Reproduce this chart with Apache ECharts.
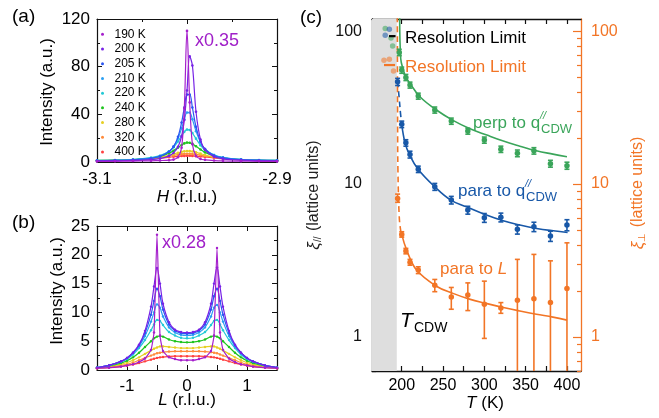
<!DOCTYPE html>
<html>
<head>
<meta charset="utf-8">
<script src="https://cdn.jsdelivr.net/npm/echarts@6/dist/echarts.min.js"></script>
<style>
html, body { margin: 0; padding: 0; background: #fff; }
#chart { width: 659px; height: 418px; }
</style>
</head>
<body>
<div id="chart"></div>
<script>
// ---------- temperatures shared by panels (a) and (b) ----------
const temps = ['190 K', '200 K', '205 K', '210 K', '220 K', '240 K', '280 K', '320 K', '400 K'];
const tempColors = ['#a51fcc', '#7622e6', '#2c57f2', '#2a9ff2', '#22c9d6', '#1ec41e', '#e6cf22', '#ff8a3a', '#ff4040'];

// ---------- panel (a): H scans ----------
const hValues = [-3.10, -3.08, -3.06, -3.04, -3.03, -3.02, -3.015, -3.01, -3.006, -3.003, -3.0,
                 -2.997, -2.994, -2.99, -2.985, -2.98, -2.97, -2.96, -2.94, -2.92, -2.90];
const hInt190 = [0.5, 0.6, 0.8, 1.0, 1.2, 1.5, 2.0, 4.0, 12, 45, 110, 50, 15, 5, 2.5, 1.8, 1.2, 0.9, 0.7, 0.6, 0.5];
const hInt200 = [0.8, 1.0, 1.3, 2.0, 2.9, 5.1, 7.6, 12.7, 21.6, 35.3, 60, 88.6, 81, 42.2, 18.8, 10.2, 4.5, 2.7, 1.5, 1.1, 0.9];
const hInt205 = [1.2, 1.4, 1.9, 3.1, 4.7, 8.6, 12.9, 21.1, 33.1, 45.7, 56.6, 56.6, 45.7, 29.5, 17.1, 10.8, 5.5, 3.5, 2.0, 1.5, 1.2];
const hInt210 = [1.2, 1.5, 2.0, 3.3, 5.0, 8.8, 12.8, 19.7, 28.3, 35.8, 41.5, 41.5, 35.8, 25.9, 16.5, 10.9, 5.8, 3.7, 2.1, 1.5, 1.3];
const hInt220 = [1.3, 1.6, 2.1, 3.6, 5.3, 9.0, 12.3, 17.2, 22.0, 25.3, 27.2, 26.8, 24.3, 19.6, 14.1, 10.1, 5.8, 3.8, 2.2, 1.6, 1.3];
const hInt240 = [1.3, 1.5, 2.0, 3.3, 4.7, 7.4, 9.5, 12.1, 14.3, 15.6, 16.3, 16.1, 15.2, 13.2, 10.5, 8.1, 5.1, 3.5, 2.1, 1.5, 1.3];
const hInt280 = [1.2, 1.4, 1.8, 2.9, 3.9, 5.5, 6.6, 7.7, 8.5, 9.0, 9.2, 9.15, 8.85, 8.2, 7.0, 5.9, 4.2, 3.0, 1.9, 1.4, 1.2];
const hInt320 = [1.1, 1.4, 1.8, 2.8, 3.6, 4.8, 5.5, 6.2, 6.6, 6.8, 6.9, 6.9, 6.7, 6.4, 5.8, 5.1, 3.9, 2.9, 1.9, 1.4, 1.1];
const hInt400 = [1.1, 1.4, 1.8, 2.6, 3.2, 4.0, 4.4, 4.8, 5.0, 5.1, 5.2, 5.2, 5.1, 4.9, 4.6, 4.2, 3.4, 2.7, 1.9, 1.4, 1.1];

// ---------- panel (b): L scans ----------
const lValues = [-1.5, -1.3, -1.1, -1.0, -0.9, -0.8, -0.7, -0.6, -0.55, -0.5, -0.45, -0.4, -0.3, -0.2, -0.1, 0,
                 0.1, 0.2, 0.3, 0.4, 0.45, 0.5, 0.55, 0.6, 0.7, 0.8, 0.9, 1.0, 1.1, 1.3, 1.5];
const lInt190 = [0.3, 0.4, 0.6, 0.8, 1.0, 1.4, 2.0, 3.5, 6.5, 23.5, 6.0, 3.3, 2.2, 1.9, 1.7, 1.7, 1.7, 1.9, 2.2, 3.3, 6.0, 21.2, 6.5, 3.5, 2.0, 1.4, 1.0, 0.8, 0.6, 0.4, 0.3];
const lInt200 = [0.4, 0.8, 1.5, 2.1, 3.0, 4.4, 6.8, 11, 14.5, 17.7, 15, 11.5, 8.3, 7.0, 6.6, 6.5, 6.6, 7.0, 8.3, 11.5, 15, 17.8, 14.5, 11, 6.8, 4.4, 3.0, 2.1, 1.5, 0.8, 0.4];
const lInt205 = [0.4, 0.8, 1.5, 2.1, 3.0, 4.3, 6.4, 9.6, 12, 14.1, 12.8, 10.5, 7.9, 6.8, 6.4, 6.3, 6.4, 6.8, 7.9, 10.5, 12.8, 14.1, 12, 9.6, 6.4, 4.3, 3.0, 2.1, 1.5, 0.8, 0.4];
const lInt210 = [0.4, 0.8, 1.5, 2.0, 2.9, 4.1, 5.9, 8.4, 10, 11.4, 10.8, 9.3, 7.4, 6.5, 6.1, 6.0, 6.1, 6.5, 7.4, 9.3, 10.8, 11.3, 10, 8.4, 5.9, 4.1, 2.9, 2.0, 1.5, 0.8, 0.4];
const lInt220 = [0.4, 0.8, 1.4, 1.9, 2.7, 3.8, 5.2, 6.9, 7.9, 8.7, 8.5, 7.8, 6.6, 6.0, 5.6, 5.5, 5.6, 6.0, 6.6, 7.8, 8.5, 8.7, 7.9, 6.9, 5.2, 3.8, 2.7, 1.9, 1.4, 0.8, 0.4];
const lInt240 = [0.4, 0.7, 1.2, 1.6, 2.2, 3.0, 4.0, 5.0, 5.5, 5.8, 5.9, 5.8, 5.3, 5.0, 4.85, 4.8, 4.85, 5.0, 5.3, 5.8, 5.9, 5.8, 5.5, 5.0, 4.0, 3.0, 2.2, 1.6, 1.2, 0.7, 0.4];
const lInt280 = [0.35, 0.6, 1.0, 1.3, 1.7, 2.2, 2.8, 3.4, 3.7, 3.9, 4.1, 4.1, 4.0, 3.9, 3.8, 3.8, 3.8, 3.9, 4.0, 4.1, 4.1, 3.9, 3.7, 3.4, 2.8, 2.2, 1.7, 1.3, 1.0, 0.6, 0.35];
const lInt320 = [0.3, 0.5, 0.8, 1.0, 1.3, 1.7, 2.1, 2.5, 2.7, 2.9, 3.0, 3.1, 3.2, 3.25, 3.25, 3.25, 3.25, 3.25, 3.2, 3.1, 3.0, 2.9, 2.7, 2.5, 2.1, 1.7, 1.3, 1.0, 0.8, 0.5, 0.3];
const lInt400 = [0.3, 0.4, 0.6, 0.75, 0.95, 1.2, 1.5, 1.8, 1.95, 2.1, 2.2, 2.25, 2.35, 2.4, 2.4, 2.4, 2.4, 2.4, 2.35, 2.25, 2.2, 2.1, 1.95, 1.8, 1.5, 1.2, 0.95, 0.75, 0.6, 0.4, 0.3];

// ---------- panel (c): correlation lengths ----------
const tPerp = [197, 200, 205, 210, 220, 240, 260, 280, 300, 320, 340, 360, 380, 400];
const xiPerp = [72.6, 55.6, 49.8, 44.4, 37.6, 30.5, 25.8, 22.2, 19.4, 16.9, 15.9, 16.5, 13.6, 13.2];
const xiPerpErr = [3.5, 2.6, 2.3, 2.0, 1.7, 1.4, 1.2, 1.0, 0.9, 0.8, 0.8, 0.8, 0.7, 0.7];

const tPara = [195, 200, 205, 210, 220, 240, 260, 280, 300, 320, 340, 360, 380, 400];
const xiPara = [46.6, 24.6, 18.6, 15.6, 12.5, 9.6, 7.86, 6.76, 6.02, 6.06, 5.06, 5.26, 4.57, 5.4];
const xiParaErr = [2.5, 1.2, 0.9, 0.8, 0.6, 0.5, 0.45, 0.4, 0.4, 0.4, 0.35, 0.37, 0.35, 0.45];

const tAlongL = [195, 200, 205, 210, 220, 240, 260, 280, 300, 320, 340, 360, 380, 400];
const xiAlongL = [8.06, 4.69, 3.65, 3.08, 2.74, 2.18, 1.83, 1.88, 1.64, 1.55, 1.74, 1.78, 1.68, 2.08];
const xiAlongLLow = [7.6, 4.5, 3.5, 2.95, 2.6, 1.98, 1.52, 1.49, 0.98, 1.43, 0.3, 0.3, 0.3, 0.3];
const xiAlongLHigh = [8.6, 4.88, 3.8, 3.22, 2.88, 2.38, 2.11, 2.26, 2.32, 1.68, 3.22, 3.47, 3.15, 4.13];

// points below T_CDW (inside the shaded band)
const tPerpBelow = [180, 187, 189];
const xiPerpBelow = [104, 90, 80];
const tParaBelow = [180, 185];
const xiParaBelow = [94, 103];
const tAlongLBelow = [178.5, 185, 190];
const xiAlongLBelow = [64.6, 65.5, 54.8];

// fitted curves
const fitPerpT = [197.5, 198.8, 202, 205, 210, 222, 242, 262, 282, 303, 323, 343, 363, 383, 400];
const fitPerpXi = [125, 66, 55.6, 50, 45.5, 37.2, 30.5, 26.1, 23.1, 20.9, 19.1, 17.7, 16.5, 15.7, 15.1];
const fitParaDashT = [195, 197, 198.5, 200];
const fitParaDashXi = [47, 36, 29, 24.6];
const fitParaT = [200, 204, 209.3, 219.8, 240, 259.4, 278.4, 302.6, 322.8, 343, 363.2, 383.4, 400.8];
const fitParaXi = [24.6, 18.6, 15.6, 12.5, 9.6, 7.86, 7.1, 6.27, 5.75, 5.4, 5.13, 4.95, 4.83];
const fitAlongLDashT = [194.7, 195, 195.4, 197, 199.2, 200];
const fitAlongLDashXi = [125, 25, 12.3, 6.1, 4.76, 4.69];
const fitAlongLT = [200, 206, 218, 242, 262, 282, 302, 323, 343, 363, 383, 400];
const fitAlongLXi = [4.69, 3.7, 2.74, 2.15, 1.93, 1.77, 1.66, 1.56, 1.48, 1.41, 1.35, 1.29];

// resolution limits
const resParaT = [184.6, 192.5];
const resParaXi = 92.7;
const resAlongLT = [178.5, 191.9];
const resAlongLXi = 60;
const tCdw = 194;

// axis ticks for panel (c)
const tLabelValues = [200, 250, 300, 350, 400];
const tTickValues = [175, 200, 225, 250, 275, 300, 325, 350, 375, 400];
const xiMajor = [1, 10, 100];
const xiMinor = [0.6, 0.7, 0.8, 0.9, 2, 3, 4, 5, 6, 7, 8, 9, 20, 30, 40, 50, 60, 70, 80, 90];

// ---------- styling ----------
const FONT = "'Liberation Sans', Arial, sans-serif";
const BLACK = '#111';
const GREEN = '#3aa55a';
const BLUE = '#1858a8';
const ORANGE = '#f27526';

const hSeries = [hInt190, hInt200, hInt205, hInt210, hInt220, hInt240, hInt280, hInt320, hInt400];
const lSeries = [lInt190, lInt200, lInt205, lInt210, lInt220, lInt240, lInt280, lInt320, lInt400];
const zip = (xs, ys) => xs.map((x, k) => [x, ys[k]]);

function linearAxis(gridIndex, position, min, max, interval, opts) {
  const showLabel = opts.showLabel;
  return {
    gridIndex, type: 'value', position, min, max, interval,
    axisLine: { show: true, onZero: false, lineStyle: { color: BLACK, width: 1.2 } },
    axisTick: { show: true, inside: true, length: 5, lineStyle: { color: BLACK, width: 1 } },
    minorTick: { show: !!opts.minor, splitNumber: 2, length: 3, lineStyle: { color: BLACK, width: 1 } },
    axisLabel: {
      show: showLabel, color: '#000', fontSize: 17, fontFamily: FONT, margin: opts.margin || 8,
      formatter: opts.formatter
    },
    splitLine: { show: false }, minorSplitLine: { show: false }
  };
}

function logAxis(gridIndex, position, color, major, showLabel) {
  return {
    gridIndex, type: 'log', logBase: 10, position, min: 0.6, max: 120,
    axisLine: { show: major, onZero: false, lineStyle: { color, width: 1.3 } },
    axisTick: {
      show: true, inside: true, length: major ? 8 : 4,
      customValues: major ? xiMajor : xiMinor,
      lineStyle: { color, width: 1.2 }
    },
    axisLabel: {
      show: showLabel, color, fontSize: 16, fontFamily: FONT, margin: 10,
      customValues: xiMajor
    },
    splitLine: { show: false }
  };
}

function tempAxis(position, showLabel) {
  return {
    gridIndex: 2, type: 'value', position, min: 164, max: 417,
    axisLine: { show: true, onZero: false, lineStyle: { color: BLACK, width: 1.3 } },
    axisTick: { show: true, inside: true, length: 5, customValues: tTickValues, lineStyle: { color: BLACK, width: 1.2 } },
    axisLabel: { show: showLabel, color: '#000', fontSize: 16, fontFamily: FONT, margin: 7, customValues: tLabelValues },
    splitLine: { show: false }
  };
}

const series = [];

// panel (a)
temps.forEach((name, i) => {
  series.push({
    type: 'line', name, xAxisIndex: 0, yAxisIndex: 0,
    data: zip(hValues, hSeries[i]),
    smooth: 0.35, symbol: 'circle', symbolSize: 2.6, showSymbol: true,
    lineStyle: { width: 1.2, color: tempColors[i] },
    itemStyle: { color: tempColors[i] },
    z: 20 - i, animation: false
  });
});

// panel (b)
temps.forEach((name, i) => {
  series.push({
    type: 'line', name, xAxisIndex: 2, yAxisIndex: 2,
    data: zip(lValues, lSeries[i]),
    smooth: i === 0 ? 0.15 : 0.35, symbol: 'circle', symbolSize: 2.4, showSymbol: true,
    lineStyle: { width: 1.2, color: tempColors[i] },
    itemStyle: { color: tempColors[i] },
    z: 20 - i, animation: false
  });
});

// panel (c): shaded band below T_CDW
series.push({
  type: 'line', name: 'band', xAxisIndex: 4, yAxisIndex: 4,
  data: [[180, 1]], showSymbol: false, lineStyle: { width: 0 }, silent: true, z: 1,
  markArea: {
    silent: true, itemStyle: { color: '#dedede' },
    data: [[{ xAxis: 164 }, { xAxis: tCdw }]]
  },
  animation: false
});

function errorBars(color, ts, lows, highs, yAxisIndex) {
  return {
    type: 'custom', xAxisIndex: 4, yAxisIndex, clip: true, silent: true, z: 6,
    data: ts.map((t, k) => [t, lows[k], highs[k]]),
    encode: { x: 0, y: [1, 2] },
    renderItem(params, api) {
      const lo = api.coord([api.value(0), api.value(1)]);
      const hi = api.coord([api.value(0), api.value(2)]);
      const cap = 2.5;
      const st = { stroke: color, lineWidth: 1.6 };
      return {
        type: 'group', children: [
          { type: 'line', shape: { x1: lo[0], y1: lo[1], x2: hi[0], y2: hi[1] }, style: st },
          { type: 'line', shape: { x1: lo[0] - cap, y1: lo[1], x2: lo[0] + cap, y2: lo[1] }, style: st },
          { type: 'line', shape: { x1: hi[0] - cap, y1: hi[1], x2: hi[0] + cap, y2: hi[1] }, style: st }
        ]
      };
    },
    animation: false
  };
}

function points(color, ts, xs, yAxisIndex, opacity) {
  return {
    type: 'scatter', xAxisIndex: 4, yAxisIndex, data: zip(ts, xs),
    symbol: 'circle', symbolSize: 5.5, itemStyle: { color, opacity: opacity || 1 },
    z: 7, silent: true, animation: false
  };
}

function curve(color, ts, xs, yAxisIndex, dashed) {
  return {
    type: 'line', xAxisIndex: 4, yAxisIndex, data: zip(ts, xs), smooth: 0.4,
    showSymbol: false, clip: true,
    lineStyle: { color, width: 1.6, type: dashed ? [6, 4] : 'solid' },
    z: 4, silent: true, animation: false
  };
}

// perpendicular to q_CDW (left axis)
series.push(curve(GREEN, fitPerpT, fitPerpXi, 4, false));
series.push(errorBars(GREEN, tPerp, xiPerp.map((v, k) => v - xiPerpErr[k]), xiPerp.map((v, k) => v + xiPerpErr[k]), 4));
series.push(points(GREEN, tPerp, xiPerp, 4));
series.push(points(GREEN, tPerpBelow, xiPerpBelow, 4, 0.55));

// parallel to q_CDW (left axis)
series.push(curve(BLUE, fitParaDashT, fitParaDashXi, 4, true));
series.push(curve(BLUE, fitParaT, fitParaXi, 4, false));
series.push(errorBars(BLUE, tPara, xiPara.map((v, k) => v - xiParaErr[k]), xiPara.map((v, k) => v + xiParaErr[k]), 4));
series.push(points(BLUE, tPara, xiPara, 4));
series.push(points(BLUE, tParaBelow, xiParaBelow, 4, 0.55));

// parallel to L (right axis)
series.push(curve(ORANGE, fitAlongLDashT, fitAlongLDashXi, 6, true));
series.push(curve(ORANGE, fitAlongLT, fitAlongLXi, 6, false));
series.push(errorBars(ORANGE, tAlongL, xiAlongLLow, xiAlongLHigh, 6));
series.push(points(ORANGE, tAlongL, xiAlongL, 6));
series.push(points(ORANGE, tAlongLBelow, xiAlongLBelow, 6, 0.55));

// resolution limits
series.push({
  type: 'line', xAxisIndex: 4, yAxisIndex: 4, data: resParaT.map(t => [t, resParaXi]),
  showSymbol: false, lineStyle: { color: '#000', width: 2.2 }, z: 8, silent: true, animation: false
});
series.push({
  type: 'line', xAxisIndex: 4, yAxisIndex: 6, data: resAlongLT.map(t => [t, resAlongLXi]),
  showSymbol: false, lineStyle: { color: ORANGE, width: 2.2 }, z: 8, silent: true, animation: false
});

// ---------- text ----------
function label(x, y, text, o) {
  o = o || {};
  return {
    type: 'text', x, y, rotation: o.rotation || 0, silent: true, z: 50,
    style: {
      text, fill: o.fill || '#000', fontSize: o.size || 17, fontFamily: FONT,
      fontStyle: o.italic ? 'italic' : 'normal',
      align: o.align || 'left', verticalAlign: 'middle',
      textAlign: o.align || 'left', textVerticalAlign: 'middle',
      rich: o.rich
    }
  };
}
const italicRich = { i: { fontStyle: 'italic', fontSize: 17, fontFamily: FONT } };

const graphics = [
  label(12, 17, '(a)', { size: 19 }),
  label(12, 223, '(b)', { size: 19 }),
  label(300, 18, '(c)', { size: 19 }),
  label(195, 41, 'x0.35', { size: 18, fill: '#a020c8' }),
  label(162, 243, 'x0.28', { size: 18, fill: '#a020c8' }),
  label(47, 92, 'Intensity (a.u.)', { rotation: Math.PI / 2, align: 'center' }),
  label(57, 291, 'Intensity (a.u.)', { rotation: Math.PI / 2, align: 'center' }),
  label(187, 197, '{i|H} (r.l.u.)', { align: 'center', rich: italicRich }),
  label(187, 400, '{i|L} (r.l.u.)', { align: 'center', rich: italicRich }),
  label(485, 403, '{i|T} (K)', { align: 'center', rich: italicRich }),
  label(314, 195, '{g|ξ}{s|//} (lattice units)', {
    rotation: Math.PI / 2, align: 'center', size: 16, fill: '#222',
    rich: { g: { fontStyle: 'italic', fontSize: 17, fontFamily: FONT, fill: '#222' },
            s: { fontSize: 10, fontFamily: FONT, fill: '#222', padding: [8, 1, 0, 0] } }
  }),
  label(638, 193, '{g|ξ}{s|⊥} (lattice units)', {
    rotation: Math.PI / 2, align: 'center', size: 16, fill: ORANGE,
    rich: { g: { fontStyle: 'italic', fontSize: 17, fontFamily: FONT, fill: ORANGE },
            s: { fontSize: 10, fontFamily: FONT, fill: ORANGE, padding: [8, 1, 0, 0] } }
  }),
  label(405, 38, 'Resolution Limit', { size: 17 }),
  label(405, 67, 'Resolution Limit', { size: 17, fill: ORANGE }),
  label(473, 123, 'perp to q', { size: 17, fill: GREEN }),
  label(540, 116, '//', { size: 11, fill: GREEN, italic: true }),
  label(541, 129, 'CDW', { size: 13, fill: GREEN }),
  label(458, 191, 'para to q', { size: 17, fill: BLUE }),
  label(525, 184, '//', { size: 11, fill: BLUE, italic: true }),
  label(526, 197, 'CDW', { size: 13, fill: BLUE }),
  label(440, 269, 'para to {i|L}', {
    size: 17, fill: ORANGE,
    rich: { i: { fontStyle: 'italic', fontSize: 17, fontFamily: FONT, fill: ORANGE } }
  }),
  label(400, 321, 'T', { size: 21, italic: true }),
  label(414, 328, 'CDW', { size: 14 })
];

const option = {
  backgroundColor: '#fff',
  animation: false,
  textStyle: { fontFamily: FONT },
  grid: [
    { left: 97, top: 19, width: 180, height: 143 },
    { left: 97, top: 226, width: 180, height: 144 },
    { left: 372, top: 19, width: 209, height: 352 }
  ],
  legend: {
    data: temps, orient: 'vertical', left: 96, top: 22,
    itemWidth: 24, itemHeight: 3, itemGap: 0, icon: 'circle',
    selectedMode: false,
    textStyle: { fontSize: 12, lineHeight: 14.7, color: '#000', fontFamily: FONT, padding: [0, 0, 0, -5] }
  },
  xAxis: [
    linearAxis(0, 'bottom', -3.1, -2.9, 0.1, { showLabel: true, minor: true, margin: 9, formatter: v => v.toFixed(1) }),
    linearAxis(0, 'top', -3.1, -2.9, 0.1, { showLabel: false, minor: true }),
    linearAxis(1, 'bottom', -1.5, 1.5, 0.5, {
      showLabel: true, margin: 8,
      formatter: v => (Math.abs(v - Math.round(v)) < 1e-6 && Math.abs(v) < 1.4) ? String(Math.round(v)) : ''
    }),
    linearAxis(1, 'top', -1.5, 1.5, 0.5, { showLabel: false }),
    tempAxis('bottom', true),
    tempAxis('top', false)
  ],
  yAxis: [
    linearAxis(0, 'left', 0, 120, 40, { showLabel: true, minor: true, margin: 7 }),
    linearAxis(0, 'right', 0, 120, 40, { showLabel: false, minor: true }),
    linearAxis(1, 'left', 0, 25, 5, { showLabel: true, minor: true, margin: 7 }),
    linearAxis(1, 'right', 0, 25, 5, { showLabel: false, minor: true }),
    logAxis(2, 'left', BLACK, true, true),
    logAxis(2, 'left', BLACK, false, false),
    logAxis(2, 'right', ORANGE, true, true),
    logAxis(2, 'right', ORANGE, false, false)
  ],
  series,
  graphic: graphics
};

const chart = echarts.init(document.getElementById('chart'), null, { renderer: 'canvas' });
chart.setOption(option);
</script>
</body>
</html>
